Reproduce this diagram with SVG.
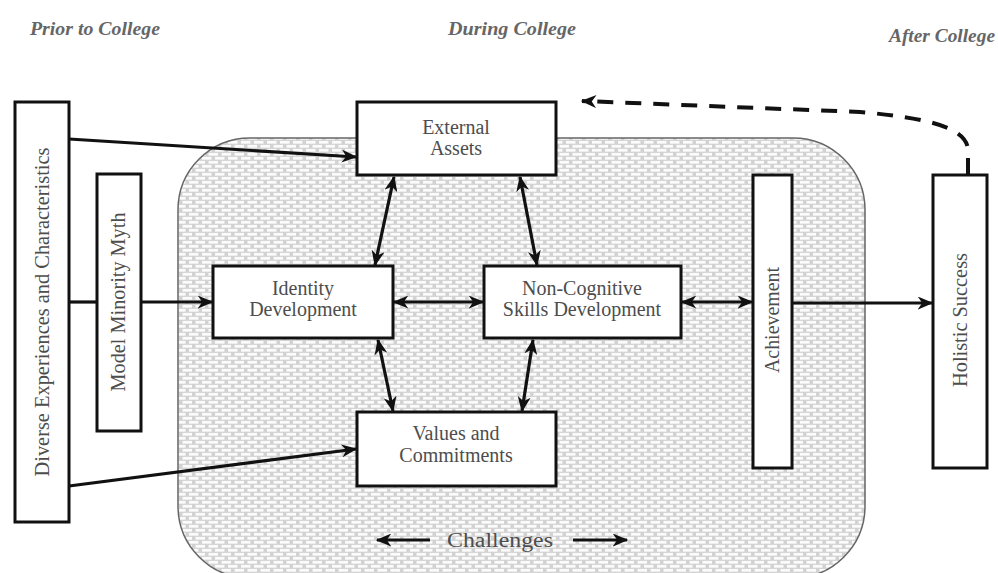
<svg xmlns="http://www.w3.org/2000/svg" width="998" height="573" viewBox="0 0 998 573">
<style>
.box{fill:#fff;stroke:#111;stroke-width:3}
.lbl{font-family:"Liberation Serif","Times New Roman",serif;font-size:20px;fill:#4d4d4d;text-anchor:middle}
.hdr{font-family:"Liberation Serif","Times New Roman",serif;font-size:19px;font-weight:bold;font-style:italic;fill:#666}
.con{fill:none;stroke:#111;stroke-width:3.2}
</style>
<defs>
<pattern id="brick" width="13" height="8" patternUnits="userSpaceOnUse">
<rect width="13" height="8" fill="#d2d2d2"/>
<rect x="0.5" y="0.9" width="9.5" height="2.8" fill="#fbfbfb"/>
<rect x="7" y="4.9" width="9.5" height="2.8" fill="#fbfbfb"/>
<rect x="-6" y="4.9" width="9.5" height="2.8" fill="#fbfbfb"/>
</pattern>
<marker id="ah" viewBox="0 0 12 10" refX="11" refY="5" markerWidth="16" markerHeight="13" markerUnits="userSpaceOnUse" orient="auto-start-reverse">
<path d="M0,0 L12,5 L0,10 L3.5,5 z" fill="#111"/>
</marker>
</defs>
<rect width="998" height="573" fill="#fff"/>

<g id="headers">
<text class="hdr" x="30" y="35" textLength="130" lengthAdjust="spacingAndGlyphs">Prior to College</text>
<text class="hdr" x="448" y="35" textLength="128" lengthAdjust="spacingAndGlyphs">During College</text>
<text class="hdr" x="889" y="42" textLength="106" lengthAdjust="spacingAndGlyphs">After College</text>
</g>

<g id="challenges-region">
<rect x="178" y="138" width="687" height="440" rx="72" ry="72" fill="url(#brick)" stroke="#666" stroke-width="1.5"/>
</g>

<g id="connectors">
<line class="con" x1="69" y1="139" x2="356" y2="157" marker-end="url(#ah)"/>
<line class="con" x1="69" y1="486" x2="356" y2="449" marker-end="url(#ah)"/>
<line class="con" x1="69" y1="302" x2="96" y2="302"/>
<line class="con" x1="141" y1="302" x2="212" y2="302" marker-end="url(#ah)"/>
<line class="con" x1="394" y1="302" x2="483" y2="302" marker-start="url(#ah)" marker-end="url(#ah)"/>
<line class="con" x1="682" y1="302" x2="752" y2="302" marker-start="url(#ah)" marker-end="url(#ah)"/>
<line class="con" x1="792" y1="303" x2="932" y2="303" marker-end="url(#ah)"/>
<line class="con" x1="394" y1="177" x2="375" y2="265" marker-start="url(#ah)" marker-end="url(#ah)"/>
<line class="con" x1="520" y1="177" x2="537" y2="265" marker-start="url(#ah)" marker-end="url(#ah)"/>
<line class="con" x1="378" y1="340" x2="393" y2="411" marker-start="url(#ah)" marker-end="url(#ah)"/>
<line class="con" x1="533" y1="340" x2="522" y2="411" marker-start="url(#ah)" marker-end="url(#ah)"/>
<path d="M968,174 L968,150 C967,128 930,118 860,112 L582,101" fill="none" stroke="#111" stroke-width="4" stroke-dasharray="16 12" marker-end="url(#ah)"/>
<line class="con" x1="430" y1="540" x2="377" y2="540" marker-end="url(#ah)"/>
<line class="con" x1="573" y1="540" x2="627" y2="540" marker-end="url(#ah)"/>
</g>

<g id="diverse">
<rect class="box" x="15" y="102" width="54" height="420"/>
<text class="lbl" transform="translate(49,312) rotate(-90)" textLength="329" lengthAdjust="spacingAndGlyphs">Diverse Experiences and Characteristics</text>
</g>
<g id="myth">
<rect class="box" x="97" y="174" width="44" height="257"/>
<text class="lbl" transform="translate(125,302) rotate(-90)" textLength="179" lengthAdjust="spacingAndGlyphs">Model Minority Myth</text>
</g>
<g id="external">
<rect class="box" x="357" y="102" width="199" height="73"/>
<text class="lbl" x="456" y="134">External</text>
<text class="lbl" x="456" y="155">Assets</text>
</g>
<g id="identity">
<rect class="box" x="213" y="266" width="180" height="72"/>
<text class="lbl" x="303" y="295">Identity</text>
<text class="lbl" x="303" y="316">Development</text>
</g>
<g id="noncog">
<rect class="box" x="484" y="266" width="197" height="72"/>
<text class="lbl" x="582" y="295">Non-Cognitive</text>
<text class="lbl" x="582" y="316">Skills Development</text>
</g>
<g id="values">
<rect class="box" x="357" y="412" width="199" height="74"/>
<text class="lbl" x="456" y="440">Values and</text>
<text class="lbl" x="456" y="462">Commitments</text>
</g>
<g id="achievement">
<rect class="box" x="753" y="175" width="39" height="293"/>
<text class="lbl" transform="translate(779,320) rotate(-90)" textLength="106" lengthAdjust="spacingAndGlyphs">Achievement</text>
</g>
<g id="holistic">
<rect class="box" x="933" y="175" width="54" height="293"/>
<text class="lbl" transform="translate(967,320) rotate(-90)" textLength="134" lengthAdjust="spacingAndGlyphs">Holistic Success</text>
</g>
<g id="challenges-label">
<text class="lbl" x="500" y="547" font-size="27" textLength="106" lengthAdjust="spacingAndGlyphs">Challenges</text>
</g>
</svg>
